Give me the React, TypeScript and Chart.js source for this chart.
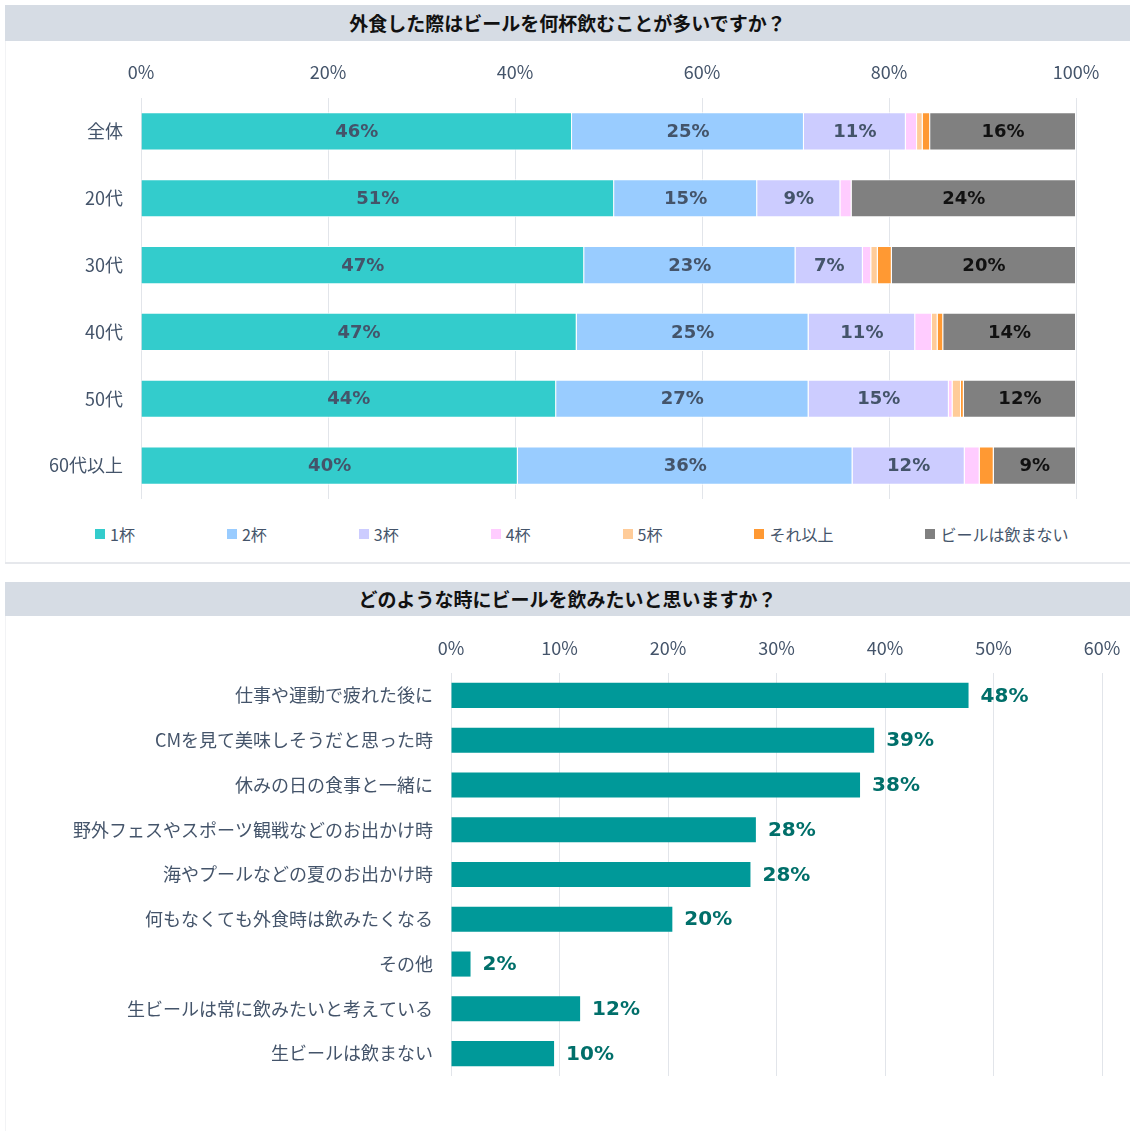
import React, { useEffect, useRef } from 'react';
import { Chart, registerables } from 'chart.js';

Chart.register(...registerables);

const TITLE_TOP = '外食した際はビールを何杯飲むことが多いですか？';
const TITLE_BOTTOM = 'どのような時にビールを飲みたいと思いますか？';

const AGE_GROUPS = ['全体', '20代', '30代', '40代', '50代', '60代以上'];
const CUP_LABELS = ['1杯', '2杯', '3杯', '4杯', '5杯', 'それ以上', 'ビールは飲まない'];

const ONE_CUP = [46.1, 50.6, 47.4, 46.6, 44.4, 40.3];
const TWO_CUPS = [24.8, 15.3, 22.6, 24.8, 27.0, 35.8];
const THREE_CUPS = [10.9, 8.9, 7.2, 11.4, 15.0, 12.0];
const FOUR_CUPS = [1.2, 1.2, 0.9, 1.8, 0.4, 1.6];
const FIVE_CUPS = [0.6, 0, 0.7, 0.6, 0.9, 0];
const MORE_CUPS = [0.8, 0, 1.5, 0.6, 0.3, 1.5];
const NO_BEER = [15.6, 24.0, 19.7, 14.2, 12.0, 8.8];

const CUP_SERIES = [ONE_CUP, TWO_CUPS, THREE_CUPS, FOUR_CUPS, FIVE_CUPS, MORE_CUPS, NO_BEER];
const CUP_COLORS = ['#33CCCC', '#99CCFF', '#CCCCFF', '#FFCCFF', '#FFCC99', '#FF9933', '#808080'];
const CUP_TEXT_COLORS = ['#44546A', '#44546A', '#44546A', '#44546A', '#44546A', '#44546A', '#111111'];

const OCCASIONS = [
  '仕事や運動で疲れた後に',
  'CMを見て美味しそうだと思った時',
  '休みの日の食事と一緒に',
  '野外フェスやスポーツ観戦などのお出かけ時',
  '海やプールなどの夏のお出かけ時',
  '何もなくても外食時は飲みたくなる',
  'その他',
  '生ビールは常に飲みたいと考えている',
  '生ビールは飲まない',
];
const OCCASION_VALUES = [47.7, 39.0, 37.7, 28.1, 27.6, 20.4, 1.8, 11.9, 9.5];

const TEXT_COLOR = '#44546A';
const GRID_COLOR = '#E2E5EA';
const JP_FONT = '"Noto Sans CJK JP", "Noto Sans", sans-serif';
const NUM_FONT = '"DejaVu Sans", Verdana, sans-serif';

const stackLabelPlugin = {
  id: 'stackLabels',
  afterDatasetsDraw(chart: any) {
    const ctx = chart.ctx;
    ctx.save();
    ctx.font = `bold 18px ${NUM_FONT}`;
    ctx.textAlign = 'center';
    ctx.textBaseline = 'middle';
    chart.data.datasets.forEach((ds: any, di: number) => {
      const meta = chart.getDatasetMeta(di);
      meta.data.forEach((el: any, i: number) => {
        const v = ds.data[i] as number;
        if (v < 5) return;
        const p = el.getProps(['x', 'y', 'base'], true);
        ctx.fillStyle = CUP_TEXT_COLORS[di];
        ctx.fillText(Math.round(v) + '%', (p.x + p.base) / 2, p.y + 1);
      });
    });
    ctx.restore();
  },
};

const endLabelPlugin = {
  id: 'endLabels',
  afterDatasetsDraw(chart: any) {
    const ctx = chart.ctx;
    ctx.save();
    ctx.font = `bold 20px ${NUM_FONT}`;
    ctx.textAlign = 'left';
    ctx.textBaseline = 'middle';
    ctx.fillStyle = '#006F6A';
    const ds = chart.data.datasets[0];
    const meta = chart.getDatasetMeta(0);
    meta.data.forEach((el: any, i: number) => {
      const v = ds.data[i] as number;
      const p = el.getProps(['x', 'y'], true);
      ctx.fillText(Math.round(v) + '%', p.x + 12, p.y + 1);
    });
    ctx.restore();
  },
};

const fixX = (h: number) => (s: any) => {
  s.height = h;
  s.paddingLeft = 0;
  s.paddingRight = 0;
};
const fixY = (w: number) => (s: any) => {
  s.width = w;
  s.paddingTop = 0;
  s.paddingBottom = 0;
};

function App() {
  const topRef = useRef<HTMLCanvasElement | null>(null);
  const bottomRef = useRef<HTMLCanvasElement | null>(null);

  useEffect(() => {
    const topChart = new Chart(topRef.current as HTMLCanvasElement, {
      type: 'bar',
      data: {
        labels: AGE_GROUPS,
        datasets: CUP_LABELS.map((label, i) => ({
          label,
          data: CUP_SERIES[i],
          backgroundColor: CUP_COLORS[i],
          borderColor: '#FFFFFF',
          borderWidth: 1,
          barPercentage: 0.57,
          categoryPercentage: 1,
        })),
      },
      options: {
        indexAxis: 'y',
        animation: false,
        responsive: false,
        layout: { padding: { left: 0, right: 54, top: 0, bottom: 2 } },
        plugins: { legend: { display: false }, tooltip: { enabled: false } },
        scales: {
          x: {
            position: 'top',
            stacked: true,
            min: 0,
            max: 100,
            ticks: {
              stepSize: 20,
              callback: (v: any) => v + '%',
              color: TEXT_COLOR,
              font: { family: JP_FONT, size: 18 },
              padding: 15,
            },
            grid: { color: GRID_COLOR, drawTicks: false, lineWidth: 1 },
            border: { display: false },
            afterFit: fixX(57),
          },
          y: {
            stacked: true,
            ticks: { color: TEXT_COLOR, font: { family: JP_FONT, size: 18 }, padding: 18 },
            grid: { display: false, drawTicks: false },
            border: { display: false },
            afterFit: fixY(136),
          },
        },
      } as any,
      plugins: [stackLabelPlugin],
    });

    const bottomChart = new Chart(bottomRef.current as HTMLCanvasElement, {
      type: 'bar',
      data: {
        labels: OCCASIONS,
        datasets: [
          {
            label: 'occasion',
            data: OCCASION_VALUES,
            backgroundColor: '#009999',
            barPercentage: 0.56,
            categoryPercentage: 1,
          },
        ],
      },
      options: {
        indexAxis: 'y',
        animation: false,
        responsive: false,
        layout: { padding: { left: 0, right: 28, top: 0, bottom: 2 } },
        plugins: { legend: { display: false }, tooltip: { enabled: false } },
        scales: {
          x: {
            position: 'top',
            min: 0,
            max: 60,
            ticks: {
              stepSize: 10,
              callback: (v: any) => v + '%',
              color: TEXT_COLOR,
              font: { family: JP_FONT, size: 18 },
              padding: 14,
            },
            grid: { color: GRID_COLOR, drawTicks: false, lineWidth: 1 },
            border: { display: false },
            afterFit: fixX(57),
          },
          y: {
            ticks: { color: TEXT_COLOR, font: { family: JP_FONT, size: 18 }, padding: 18 },
            grid: { display: false, drawTicks: false },
            border: { display: false },
            afterFit: fixY(446),
          },
        },
      } as any,
      plugins: [endLabelPlugin],
    });

    return () => {
      topChart.destroy();
      bottomChart.destroy();
    };
  }, []);

  const titleStyle: React.CSSProperties = {
    position: 'absolute',
    left: 5,
    width: 1125,
    background: '#D6DCE4',
    color: '#111111',
    fontWeight: 700,
    fontSize: 19,
    textAlign: 'center',
    fontFamily: JP_FONT,
  };

  return (
    <div
      style={{
        position: 'absolute',
        left: 0,
        top: 0,
        width: 1130,
        height: 1131,
        background: '#FFFFFF',
        overflow: 'hidden',
        fontFamily: JP_FONT,
      }}
    >
      <div style={{ ...titleStyle, top: 5, height: 36, lineHeight: '36px' }}>{TITLE_TOP}</div>
      <div style={{ position: 'absolute', left: 5, top: 41, width: 1, height: 521, background: '#F2F3F5' }} />
      <canvas
        ref={topRef}
        width={1125}
        height={460}
        style={{ position: 'absolute', left: 5, top: 41, width: 1125, height: 460, display: 'block' }}
      />
      <div
        style={{
          position: 'absolute',
          left: 95,
          top: 523,
          height: 22,
          display: 'flex',
          alignItems: 'center',
          gap: 92,
          whiteSpace: 'nowrap',
        }}
      >
        {CUP_LABELS.map((label, i) => (
          <div key={label} style={{ display: 'flex', alignItems: 'center' }}>
            <span style={{ width: 10, height: 10, background: CUP_COLORS[i], display: 'inline-block', marginRight: 5 }} />
            <span style={{ fontSize: 16, color: TEXT_COLOR, lineHeight: '22px' }}>{label}</span>
          </div>
        ))}
      </div>
      <div style={{ position: 'absolute', left: 5, top: 562, width: 1125, height: 2, background: '#E6E8EC' }} />

      <div style={{ ...titleStyle, top: 582, height: 34, lineHeight: '34px' }}>{TITLE_BOTTOM}</div>
      <div style={{ position: 'absolute', left: 5, top: 616, width: 1, height: 515, background: '#F2F3F5' }} />
      <canvas
        ref={bottomRef}
        width={1125}
        height={462}
        style={{ position: 'absolute', left: 5, top: 616, width: 1125, height: 462, display: 'block' }}
      />
    </div>
  );
}

export default App;
